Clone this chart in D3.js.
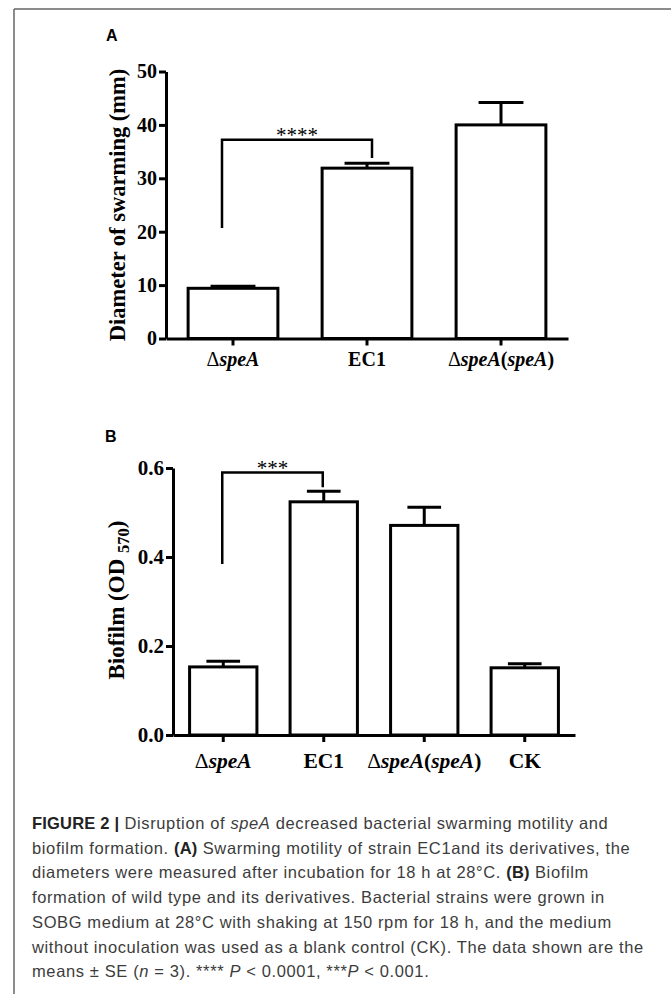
<!DOCTYPE html>
<html><head><meta charset="utf-8">
<script src="https://cdn.jsdelivr.net/npm/d3@7"></script>
<style>body{margin:0;background:#fff} svg{display:block}</style>
</head><body>
<svg id="c" width="671" height="994"></svg>
<script>
// ---- data ----
const catsA = ["ΔspeA", "EC1", "ΔspeA(speA)"];
const meanA = [9.4, 31.9, 40.0];
const seA = [0.4, 0.9, 4.2];
const ticksA = [0, 10, 20, 30, 40, 50];
const sigA = ["ΔspeA", "EC1", 37.2, 20.7, 33.8, "****"]; // from, to, top, leftEnd, rightEnd, label

const catsB = ["ΔspeA", "EC1", "ΔspeA(speA)", "CK"];
const meanB = [0.153, 0.524, 0.471, 0.151];
const seB = [0.013, 0.024, 0.041, 0.009];
const ticksB = [0.0, 0.2, 0.4, 0.6];
const sigB = ["ΔspeA", "EC1", 0.590, 0.384, 0.557, "***"];

const captionLines = [
  [["FIGURE 2 |", "b"], [" Disruption of ", ""], ["speA", "i"], [" decreased bacterial swarming motility and", ""]],
  [["biofilm formation. ", ""], ["(A)", "b"], [" Swarming motility of strain EC1and its derivatives, the", ""]],
  [["diameters were measured after incubation for 18 h at 28°C. ", ""], ["(B)", "b"], [" Biofilm", ""]],
  [["formation of wild type and its derivatives. Bacterial strains were grown in", ""]],
  [["SOBG medium at 28°C with shaking at 150 rpm for 18 h, and the medium", ""]],
  [["without inoculation was used as a blank control (CK). The data shown are the", ""]],
  [["means ± SE (", ""], ["n", "i"], [" = 3). **** ", ""], ["P", "i"], [" < 0.0001, ***", ""], ["P", "i"], [" < 0.001.", ""]]
];

// ---- drawing ----
const svg = d3.select("#c");
const SERIF = "'Liberation Serif','Times New Roman',serif";
const SANS = "'Liberation Sans',Arial,Helvetica,sans-serif";

// frame
svg.append("line").attr("x1", 14).attr("y1", 9).attr("x2", 671).attr("y2", 9).attr("stroke", "#666").attr("stroke-width", 1.5);
svg.append("line").attr("x1", 14).attr("y1", 9).attr("x2", 14).attr("y2", 994).attr("stroke", "#666").attr("stroke-width", 1.5);

function addItalicParts(textSel, label) {
  textSel.text(null);
  label.split(/(speA)/).filter(s => s.length).forEach(s => {
    const ts = textSel.append("tspan").text(s).attr("font-style", s === "speA" ? "italic" : "normal");
    if (s.startsWith("Δ")) ts.attr("font-weight", "normal");
  });
}

function panel(o) {
  const g = svg.append("g");
  const x = d3.scaleBand().domain(o.cats).range([o.ax, o.ax + 402]).paddingInner(0.33).paddingOuter(0.165);
  const y = d3.scaleLinear().domain(o.domain).range([o.y0, o.y1]);
  const bw = x.bandwidth();
  const data = o.cats.map((c, i) => ({c, m: o.means[i], s: o.ses[i]}));

  // bars
  g.selectAll("rect.bar").data(data).join("rect").attr("class", "bar")
    .attr("x", d => x(d.c)).attr("width", bw)
    .attr("y", d => y(d.m)).attr("height", d => y(0) - y(d.m))
    .attr("fill", "#fff").attr("stroke", "#000").attr("stroke-width", 3);
  // error bars
  g.selectAll("line.err").data(data).join("line").attr("class", "err")
    .attr("x1", d => x(d.c) + bw / 2).attr("x2", d => x(d.c) + bw / 2)
    .attr("y1", d => y(d.m)).attr("y2", d => y(d.m + d.s))
    .attr("stroke", "#000").attr("stroke-width", 3);
  g.selectAll("line.cap").data(data).join("line").attr("class", "cap")
    .attr("x1", d => x(d.c) + bw / 4).attr("x2", d => x(d.c) + bw * 3 / 4)
    .attr("y1", d => y(d.m + d.s)).attr("y2", d => y(d.m + d.s))
    .attr("stroke", "#000").attr("stroke-width", 3);

  // y axis
  const ya = g.append("g").attr("transform", `translate(${o.ax},0)`)
    .call(d3.axisLeft(y).tickValues(o.ticks).tickSize(7).tickSizeOuter(0).tickPadding(2).tickFormat(o.fmt));
  // x axis
  const xa = g.append("g").attr("transform", `translate(0,${o.y0})`)
    .call(d3.axisBottom(x).tickSize(7).tickSizeOuter(0));
  [ya, xa].forEach(a => {
    a.select(".domain").attr("stroke-width", 3).attr("stroke", "#000");
    a.selectAll(".tick line").attr("stroke-width", 3).attr("stroke", "#000");
    a.selectAll("text").attr("font-family", SERIF).attr("font-weight", "bold").attr("fill", "#000");
  });
  ya.selectAll("text").attr("font-size", o.tickFs);
  xa.selectAll(".tick text").attr("font-size", o.labFs).attr("y", o.labOff).attr("dy", 0)
    .each(function(d) { addItalicParts(d3.select(this), d); });

  // y title
  const t = g.append("text").attr("transform", `translate(${o.titleX},${o.titleY}) rotate(-90)`)
    .attr("text-anchor", "middle").attr("font-family", SERIF).attr("font-weight", "bold")
    .attr("font-size", o.titleFs).attr("fill", "#000");
  o.title.forEach(p => {
    const ts = t.append("tspan").text(p[0]);
    if (p[1] === "sub") ts.attr("font-size", o.titleFs * 0.72).attr("dy", o.titleFs * 0.22);
    if (p[1] === "after") ts.attr("dy", -o.titleFs * 0.22);
  });

  // significance bracket
  const s = o.sig;
  const xl = x(s[0]) + bw / 2 + o.sigDx[0], xr = x(s[1]) + bw / 2 + o.sigDx[1];
  g.append("path")
    .attr("d", d3.line()([[xl, y(s[3])], [xl, y(s[2])], [xr, y(s[2])], [xr, y(s[4])]]))
    .attr("fill", "none").attr("stroke", "#000").attr("stroke-width", 2.5).attr("stroke-linejoin", "miter");
  g.append("text").attr("x", (xl + xr) / 2).attr("y", y(s[2]) + o.starDy)
    .attr("text-anchor", "middle").attr("font-family", SERIF).attr("font-size", o.starFs)
    .attr("fill", "#000").text(s[5]);

  // panel letter
  svg.append("text").attr("x", o.letter[1]).attr("y", o.letter[2]).attr("font-family", SANS)
    .attr("font-weight", "bold").attr("font-size", 16).attr("fill", "#000").text(o.letter[0]);
}

panel({
  cats: catsA, means: meanA, ses: seA, ticks: ticksA, domain: [0, 50], fmt: d3.format("d"),
  ax: 166, y0: 338.5, y1: 71.5, tickFs: 20, labFs: 20, labOff: 27,
  title: [["Diameter of swarming (mm)", ""]], titleX: 125, titleY: 205, titleFs: 22.5,
  sig: sigA, sigDx: [-11, 5], starDy: 2, starFs: 21, letter: ["A", 106, 41]
});
panel({
  cats: catsB, means: meanB, ses: seB, ticks: ticksB, domain: [0, 0.6], fmt: d3.format(".1f"),
  ax: 173, y0: 735, y1: 468, tickFs: 21, labFs: 21.5, labOff: 33,
  title: [["Biofilm (OD ", ""], ["570", "sub"], [")", "after"]], titleX: 124, titleY: 600, titleFs: 23,
  sig: sigB, sigDx: [-1, -1], starDy: 3, starFs: 21, letter: ["B", 105, 442]
});

// caption
const cap = svg.append("g");
captionLines.forEach((line, i) => {
  const t = cap.append("text").attr("x", 32).attr("y", 829 + i * 24.7)
    .attr("font-family", SANS).attr("font-size", 16.5).attr("letter-spacing", 0.62).attr("fill", "#3c3c3c");
  line.forEach(p => {
    const ts = t.append("tspan").text(p[0]);
    if (p[1] === "b") ts.attr("font-weight", "bold").attr("fill", "#222").attr("letter-spacing", 0.2);
    if (p[1] === "i") ts.attr("font-style", "italic");
  });
});
</script>
</body></html>
